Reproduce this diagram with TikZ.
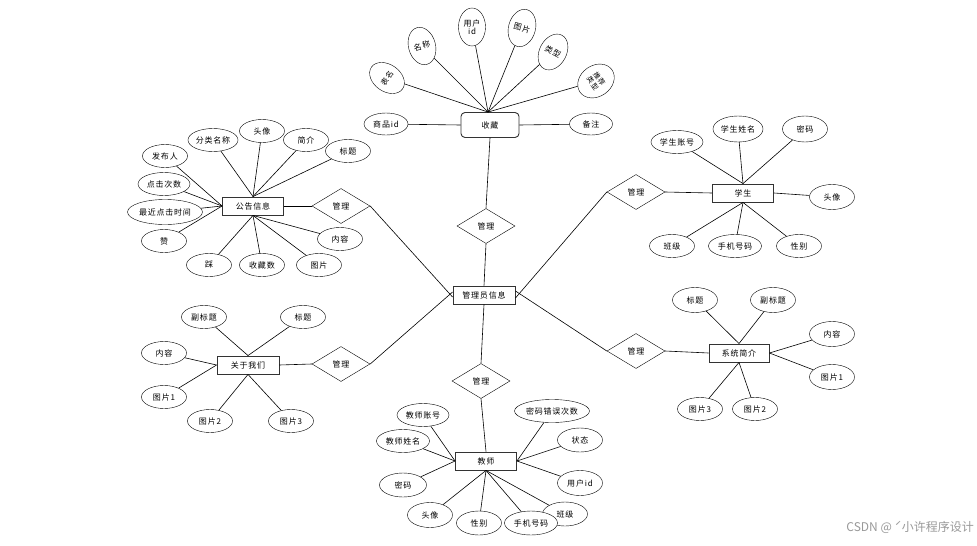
\documentclass[tikz,border=0pt]{standalone}
\usepackage{fontspec}
\setmainfont{Noto Sans CJK SC}[LetterSpace=10]
\newfontfamily\wmfont{Noto Sans CJK SC}
\usetikzlibrary{shapes.geometric}
\tikzset{
  attr/.style={ellipse, draw, fill=white, minimum width=45pt, minimum height=23pt, inner sep=0.5pt, font=\fontsize{8}{9}\selectfont},
  tattr/.style={ellipse, draw, fill=white, minimum width=27pt, minimum height=38pt, inner sep=0.5pt, font=\fontsize{8}{9}\selectfont, align=center},
  ent/.style={rectangle, draw=black!80, line width=0.9pt, fill=white, minimum width=61pt, minimum height=18pt, inner sep=1pt, font=\fontsize{8}{9}\selectfont},
  rel/.style={diamond, draw, fill=white, aspect=1.66, minimum width=58pt, minimum height=35pt, inner sep=0pt, font=\fontsize{8}{9}\selectfont},
  link/.style={draw, line width=0.6pt}
}
\begin{document}
\begin{tikzpicture}[x=1pt,y=-1pt]
\useasboundingbox[fill=white] (0,0) rectangle (977,546);

% ---------- top: 收藏 ----------
\node[ent, rounded corners=4pt, minimum width=58pt, minimum height=25pt] (sc) at (490,125) {收藏};
\node[attr, minimum width=44pt, minimum height=22pt] (scid) at (386,124) {商品id};
\node[attr, minimum width=43pt, minimum height=22pt] (scbz) at (591,124) {备注};
\node[tattr, rotate=55, font=\fontsize{7.5}{8}\selectfont] (scbm) at (387,78) {表名};
\node[tattr, rotate=15] (scmc) at (422,46) {名称};
\node[tattr, font=\fontsize{8}{8.5}\selectfont] (scyh) at (472,27) {用户\\id};
\node[tattr, rotate=-15] (sctp) at (522,28) {图片};
\node[tattr, rotate=-28] (sclx) at (553,52) {类型};
\node[tattr, rotate=-55, minimum width=31pt, minimum height=39pt, font=\fontsize{7}{8}\selectfont] (sctj) at (596,81) {推荐\\类型};
\foreach \a in {scbm,scmc,scyh,sctp,sclx,sctj} \draw[link] (\a) -- ([xshift=-2pt]sc.north);
\draw[link] (scid) -- (sc.west);
\draw[link] (scbz) -- (sc.east);

% ---------- center ----------
\node[ent, minimum width=62pt] (admin) at (484,295) {管理员信息};
\node[rel] (rtop) at (486,226) {管理};
\node[rel] (rleft) at (341,206) {管理};
\node[rel] (rabout) at (341,364) {管理};
\node[rel] (rstu) at (636,192) {管理};
\node[rel] (rsys) at (636,351) {管理};
\node[rel] (rbot) at (481,381) {管理};
\draw[link] (sc.south) -- (rtop.north);
\draw[link] (rtop.south) -- (admin.north);
\draw[link] (rleft.east) -- ([yshift=-2pt]admin.west);
\draw[link] (rabout.east) -- ([yshift=3pt]admin.west);
\draw[link] (rstu.west) -- ([yshift=-3pt]admin.east);
\draw[link] (rsys.west) -- ([yshift=4pt]admin.east);
\draw[link] (admin.south) -- (rbot.north);

% ---------- 公告信息 ----------
\node[ent] (gg) at (253,206) {公告信息};
\draw[link] (gg.east) -- (rleft.west);
\node[attr] (gg1) at (213,140) {分类名称};
\node[attr] (gg2) at (262,131) {头像};
\node[attr] (gg3) at (306,140) {简介};
\node[attr] (gg4) at (348,151) {标题};
\node[attr] (gg5) at (165,156) {发布人};
\node[attr, minimum width=52pt] (gg6) at (164,184) {点击次数};
\node[attr, minimum width=70pt, minimum height=25pt] (gg7) at (165,212) {最近点击时间};
\node[attr] (gg8) at (164,241) {赞};
\node[attr] (gg9) at (209,265) {踩};
\node[attr] (gg10) at (262,265) {收藏数};
\node[attr] (gg11) at (319,265) {图片};
\node[attr] (gg12) at (340,239) {内容};
\foreach \a in {gg1,gg2,gg3,gg4} \draw[link] (\a) -- (gg.north);
\foreach \a in {gg5,gg6,gg7,gg8} \draw[link] (\a) -- (gg.west);
\foreach \a in {gg9,gg10,gg11,gg12} \draw[link] (\a) -- (gg.south);

% ---------- 学生 ----------
\node[ent] (xs) at (743,193) {学生};
\draw[link] (rstu.east) -- (xs.west);
\node[attr, minimum width=52pt] (xs1) at (677,142) {学生账号};
\node[attr, minimum height=26pt] (xs2) at (738,129) {学生姓名};
\node[attr, minimum height=26pt] (xs3) at (805,129) {密码};
\node[attr, minimum height=25pt] (xs4) at (832,197) {头像};
\node[attr] (xs5) at (672,246) {班级};
\node[attr, minimum width=53pt] (xs6) at (735,246) {手机号码};
\node[attr] (xs7) at (799,246) {性别};
\foreach \a in {xs1,xs2,xs3} \draw[link] (\a) -- (xs.north);
\draw[link] (xs4) -- (xs.east);
\foreach \a in {xs5,xs6,xs7} \draw[link] (\a) -- (xs.south);

% ---------- 关于我们 ----------
\node[ent, minimum width=62pt] (gy) at (248,365) {关于我们};
\draw[link] (gy.east) -- (rabout.west);
\node[attr] (gy1) at (204,317) {副标题};
\node[attr] (gy2) at (303,317) {标题};
\node[attr] (gy3) at (164,353) {内容};
\node[attr] (gy4) at (164,397) {图片1};
\node[attr] (gy5) at (210,421) {图片2};
\node[attr] (gy6) at (291,421) {图片3};
\foreach \a in {gy1,gy2} \draw[link] (\a) -- (gy.north);
\foreach \a in {gy3,gy4} \draw[link] (\a) -- (gy.west);
\foreach \a in {gy5,gy6} \draw[link] (\a) -- (gy.south);

% ---------- 系统简介 ----------
\node[ent, minimum width=60pt] (xt) at (739,353) {系统简介};
\draw[link] (rsys.east) -- (xt.west);
\node[attr, minimum height=25pt] (xt1) at (695,300) {标题};
\node[attr, minimum height=25pt] (xt2) at (773,300) {副标题};
\node[attr, minimum height=25pt] (xt3) at (832,334) {内容};
\node[attr, minimum height=25pt] (xt4) at (832,377) {图片1};
\node[attr] (xt5) at (700,409) {图片3};
\node[attr] (xt6) at (755,409) {图片2};
\foreach \a in {xt1,xt2} \draw[link] (\a) -- (xt.north);
\foreach \a in {xt3,xt4} \draw[link] (\a) -- (xt.east);
\foreach \a in {xt5,xt6} \draw[link] (\a) -- (xt.south);

% ---------- 教师 ----------
\node[ent] (js) at (486,461) {教师};
\draw[link] (rbot.south) -- (js.north);
\node[attr, minimum width=52pt] (js1) at (423,415) {教师账号};
\node[attr, minimum width=71pt] (js2) at (552,411) {密码错误次数};
\node[attr, minimum width=53pt] (js3) at (403,441) {教师姓名};
\node[attr, minimum height=24pt] (js4) at (580,440) {状态};
\node[attr, minimum width=47pt, minimum height=24pt] (js5) at (403,485) {密码};
\node[attr, minimum height=25pt] (js6) at (580,483) {用户id};
\node[attr, minimum height=25pt] (js7) at (430,515) {头像};
\node[attr, minimum height=24pt] (js8) at (479,523) {性别};
\node[attr, minimum height=24pt] (js10) at (565,514) {班级};
\node[attr, minimum width=53pt, minimum height=24pt] (js9) at (531,523) {手机号码};
\foreach \a in {js1,js3,js5} \draw[link] (\a) -- (js.west);
\foreach \a in {js2,js4,js6} \draw[link] (\a) -- (js.east);
\foreach \a in {js7,js8,js9,js10} \draw[link] (\a) -- (js.south);

% ---------- watermark ----------
\node[text=black!40, font=\wmfont\fontsize{12}{13}\selectfont, anchor=east, inner sep=0pt] (wm) at (974,527) {CSDN @ ˊ小许程序设计};
\end{tikzpicture}
\end{document}
